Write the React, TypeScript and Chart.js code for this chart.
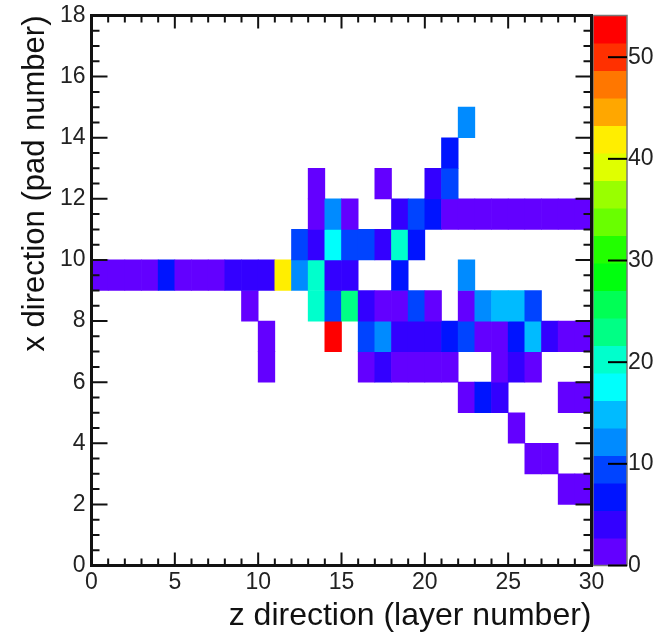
import React, { useEffect, useRef } from "react";
import { Chart, registerables } from "chart.js";

Chart.register(...registerables);

// ---- axis / title text ----
const xTitle = "z direction (layer number)";
const yTitle = "x direction (pad number)";
const layerMin = 0;
const layerMax = 30;
const padMin = 0;
const padMax = 18;
const zMax = 54.1; // histogram maximum (top of palette)
const nContours = 20;
const paletteTickValues = [0, 10, 20, 30, 40, 50];

// ---- 2D histogram content, one entry per pad row ----
const rowPads = [2, 3, 4, 5, 6, 7, 8, 9, 10, 11, 12, 13, 14];
const rowLayers = [
  [28, 29],
  [26, 27],
  [25],
  [22, 23, 24, 28, 29],
  [10, 16, 17, 18, 19, 20, 21, 24, 25, 26],
  [10, 14, 16, 17, 18, 19, 20, 21, 22, 23, 24, 25, 26, 27, 28, 29],
  [9, 13, 14, 15, 16, 17, 18, 19, 20, 22, 23, 24, 25, 26],
  [0, 1, 2, 3, 4, 5, 6, 7, 8, 9, 10, 11, 12, 13, 14, 15, 18, 22],
  [12, 13, 14, 15, 16, 17, 18, 19],
  [13, 14, 15, 18, 19, 20, 21, 22, 23, 24, 25, 26, 27, 28, 29],
  [13, 17, 20, 21],
  [21],
  [22],
];
const rowCounts = [
  [1, 1],
  [1, 1],
  [1],
  [2, 7, 4, 1, 2],
  [1, 2, 4, 2, 1, 2, 2, 1, 4, 1],
  [1, 54.1, 10, 12, 4, 4, 4, 7, 10, 2, 2, 7, 15, 4, 2, 1],
  [1, 20, 10, 23, 4, 2, 2, 10, 1, 2, 12, 15, 15, 10],
  [2, 1, 1, 1, 7, 1, 1, 1, 4, 4, 4, 42, 12, 20, 4, 4, 7, 12],
  [10, 4, 18, 10, 10, 4, 20, 7],
  [1, 12, 1, 4, 10, 7, 1, 1, 1, 1, 1, 1, 1, 1, 1],
  [1, 1, 4, 10],
  [7],
  [12],
];

const FONT = "'Liberation Sans', Arial, Helvetica, sans-serif";
const TEXT_COLOR = "#222";

// ROOT "pretty" palette (SetPalette(1)) with 20 contour levels
function levelColor(k: number): string {
  const idx = Math.floor(((k + 0.99) * 50) / nContours);
  const hue = 280 - (idx + 1) * (280 / 50);
  return `hsl(${hue}, 100%, 50%)`;
}
function valueColor(v: number): string {
  const w = zMax / nContours;
  let k = Math.floor(v / w);
  if (k > nContours - 1) k = nContours - 1;
  if (k < 0) k = 0;
  return levelColor(k);
}

const framePlugin = {
  id: "rootFrame",
  afterDraw(chart: any) {
    const { ctx, chartArea: a, scales } = chart;
    const xs = scales.x;
    const ys = scales.y;
    const zs = scales.yc;
    ctx.save();

    // palette (colour bar)
    const w = zMax / nContours;
    const barL = a.right + 1.5;
    const barR = a.right + 35.5;
    for (let k = 0; k < nContours; k++) {
      const yb = zs.getPixelForValue(k * w);
      const yt = zs.getPixelForValue((k + 1) * w);
      ctx.fillStyle = levelColor(k);
      ctx.fillRect(barL, yt, barR - barL, yb - yt + 0.5);
    }
    const zTop = zs.getPixelForValue(zMax);
    const zBot = zs.getPixelForValue(0);
    ctx.strokeStyle = "#777";
    ctx.lineWidth = 1.5;
    ctx.strokeRect(barL, zTop, barR - barL, zBot - zTop);
    ctx.strokeStyle = "#000";
    ctx.lineWidth = 2;
    for (const v of paletteTickValues) {
      const py = zs.getPixelForValue(v);
      ctx.beginPath();
      ctx.moveTo(barR - 19, py);
      ctx.lineTo(barR, py);
      ctx.stroke();
    }

    // axis ticks (inside, mirrored on the opposite side)
    ctx.strokeStyle = "#111";
    ctx.lineWidth = 2;
    for (let v = padMin; v <= padMax + 1e-9; v += 0.5) {
      const len = Math.abs(v % 2) < 1e-9 ? 16 : 8;
      const py = ys.getPixelForValue(v);
      ctx.beginPath();
      ctx.moveTo(a.left, py);
      ctx.lineTo(a.left + len, py);
      ctx.moveTo(a.right, py);
      ctx.lineTo(a.right - len, py);
      ctx.stroke();
    }
    for (let v = layerMin; v <= layerMax + 1e-9; v += 1) {
      const len = v % 5 === 0 ? 13 : 7;
      const px = xs.getPixelForValue(v);
      ctx.beginPath();
      ctx.moveTo(px, a.bottom);
      ctx.lineTo(px, a.bottom - len);
      ctx.moveTo(px, a.top);
      ctx.lineTo(px, a.top + len);
      ctx.stroke();
    }

    // frame
    ctx.lineWidth = 3;
    ctx.strokeStyle = "#111";
    ctx.strokeRect(a.left, a.top, a.right - a.left, a.bottom - a.top);
    ctx.restore();
  },
};

export default function App() {
  const canvasRef = useRef<HTMLCanvasElement | null>(null);

  useEffect(() => {
    const canvas = canvasRef.current;
    if (!canvas) return;

    const points: { x: number; y: [number, number] }[] = [];
    const colors: string[] = [];
    rowPads.forEach((pad, r) => {
      rowLayers[r].forEach((layer, i) => {
        points.push({ x: layer + 0.5, y: [pad, pad + 1] });
        colors.push(valueColor(rowCounts[r][i]));
      });
    });

    const tickFont = { family: FONT, size: 23 };

    const chart = new Chart(canvas, {
      type: "bar",
      data: {
        datasets: [
          {
            data: points as any,
            backgroundColor: colors,
            borderWidth: 0,
            barPercentage: 1,
            categoryPercentage: 1,
            xAxisID: "x",
            yAxisID: "y",
          },
        ],
      },
      options: {
        animation: false,
        responsive: false,
        events: [],
        layout: { padding: { left: 0, right: 0, top: 15.5, bottom: 0 } },
        plugins: {
          legend: { display: false },
          tooltip: { enabled: false },
        },
        scales: {
          x: {
            type: "linear",
            position: "bottom",
            offset: false,
            min: layerMin,
            max: layerMax,
            grid: { display: false, drawTicks: false, offset: false },
            border: { display: false },
            ticks: {
              stepSize: 5,
              maxRotation: 0,
              autoSkip: false,
              padding: 3,
              font: tickFont,
              color: TEXT_COLOR,
            },
            title: {
              display: true,
              text: xTitle,
              align: "end",
              color: "#111",
              font: { family: FONT, size: 32, lineHeight: 1 },
              padding: { top: 0, bottom: 0 },
            },
            afterFit: (s: any) => {
              s.height = 66.5;
            },
          },
          y: {
            type: "linear",
            position: "left",
            min: padMin,
            max: padMax,
            grid: { display: false, drawTicks: true, tickLength: 5 },
            border: { display: false },
            ticks: {
              stepSize: 2,
              autoSkip: false,
              padding: 1,
              font: tickFont,
              color: TEXT_COLOR,
            },
            title: {
              display: true,
              text: yTitle,
              align: "end",
              color: "#111",
              font: { family: FONT, size: 31, lineHeight: 1 },
              padding: { top: 20, bottom: 0 },
            },
            afterFit: (s: any) => {
              s.width = 91.5;
            },
          },
          yc: {
            type: "linear",
            position: "right",
            min: 0,
            max: zMax,
            grid: { display: false, drawTicks: true, tickLength: 35 },
            border: { display: false },
            ticks: {
              stepSize: 10,
              includeBounds: false,
              autoSkip: false,
              padding: 1.5,
              font: tickFont,
              color: TEXT_COLOR,
            },
            afterFit: (s: any) => {
              s.width = 61.5;
            },
          },
        },
      } as any,
      plugins: [framePlugin],
    });

    return () => chart.destroy();
  }, []);

  return (
    <div style={{ position: "absolute", left: 0, top: 0, width: 653, height: 632, background: "#fff" }}>
      <canvas ref={canvasRef} width={653} height={632} style={{ display: "block" }} />
    </div>
  );
}
